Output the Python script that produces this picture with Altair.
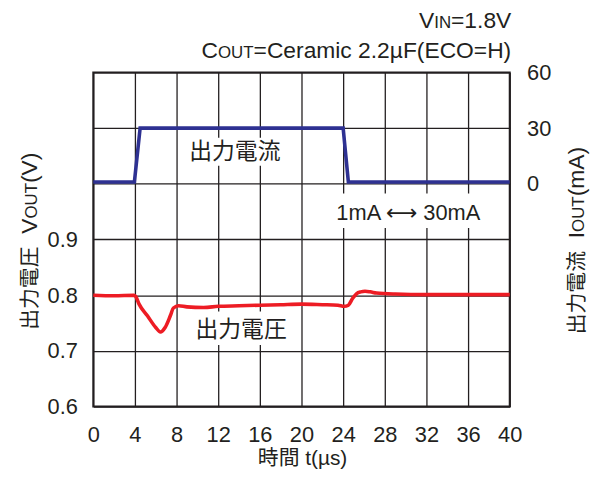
import altair as alt
import pandas as pd

# ---------------- data ----------------
# output voltage (left axis, V)
t_v = [0, 2, 3.9, 4.1, 4.4, 5.2, 6.0, 6.45, 6.9, 7.4, 7.7, 8.2, 9.0, 10.6, 12, 14, 16,
       18, 20, 22, 23.5, 24.1, 24.5, 24.9, 25.3, 25.7, 26.1, 26.6, 27.2, 29, 32, 36, 40]
v_out = [0.800, 0.799, 0.800, 0.797, 0.784, 0.763, 0.742, 0.734, 0.742, 0.763, 0.777,
         0.781, 0.779, 0.778, 0.780, 0.781, 0.782, 0.783, 0.784, 0.783, 0.782, 0.780,
         0.782, 0.794, 0.803, 0.806, 0.807, 0.806, 0.804, 0.802, 0.801, 0.801, 0.801]
# output current (right axis, mA)
t_i = [0, 3.95, 4.5, 24.0, 24.5, 40]
i_out = [1, 1, 30, 30, 1, 1]

x_ticks = [0, 4, 8, 12, 16, 20, 24, 28, 32, 36, 40]
v_grid = [0.6, 0.7, 0.8, 0.9, 1.0, 1.1, 1.2]
i_ticks = [0, 30, 60]

x_title = "時間 t(µs)"
label_current = "出力電流"
label_voltage = "出力電圧"
label_step = "1mA \u27f7 30mA"

# ---------------- style ----------------
LATIN = "Liberation Sans"
CJK = "Noto Sans CJK JP"
MIXED = "Liberation Sans, Noto Sans CJK JP"
INK = "#231F20"
RED = "#ED1C24"
BLUE = "#2E3192"
MAIN = 23
SUB = 17

xs = alt.Scale(domain=[0, 40], nice=False, zero=False)
vs = alt.Scale(domain=[0.6, 1.2], nice=False, zero=False)
cs = alt.Scale(domain=[-120, 60], nice=False, zero=False)

W = {' ': 278, '(': 333, ')': 333, '.': 278, '=': 584, 'A': 667, 'C': 722, 'E': 667,
     'F': 611, 'H': 722, 'I': 278, 'N': 722, 'O': 778, 'T': 611, 'U': 722, 'V': 667,
     'a': 556, 'c': 500, 'e': 556, 'i': 222, 'm': 833, 'r': 333, 's': 500, 't': 278,
     'µ': 576}


def text_w(s, size, cjk):
    if cjk:
        return len(s) * size
    return sum(W.get(ch, 556) for ch in s) / 1000 * size


def pieces(parts, t, v, anchor, angle=0):
    widths = [text_w(s, size, cjk) for s, size, cjk in parts]
    total = sum(widths)
    cum = {"left": 0, "center": -total / 2, "right": -total}[anchor]
    out = []
    for (s, size, cjk), w in zip(parts, widths):
        lead = len(s) - len(s.lstrip(" "))
        shift = text_w(" " * lead, size, cjk)
        out.append(
            alt.Chart(pd.DataFrame({"t": [t], "v": [v], "s": [s.lstrip(" ")]}))
            .mark_text(align="left", baseline="alphabetic", dx=cum + shift, angle=angle,
                       font=CJK if cjk else LATIN, fontSize=size, color=INK)
            .encode(x=alt.X("t:Q", scale=xs, axis=None),
                    y=alt.Y("v:Q", scale=vs, axis=None),
                    text="s:N")
        )
        cum += w
    return out


# ---------------- layers ----------------
vdf = pd.DataFrame({"t": t_v, "v": v_out})
idf = pd.DataFrame({"t": t_i, "i": i_out})

vline = alt.Chart(vdf).mark_line(color=RED, strokeWidth=3.6, interpolate="monotone").encode(
    x=alt.X("t:Q", scale=xs,
            axis=alt.Axis(orient="bottom", values=x_ticks, grid=True, ticks=False, domain=False,
                          labelPadding=18, labelFontSize=22, labelFont=LATIN,
                          labelColor=INK, labelFlush=False, labelOverlap=False,
                          title=None, gridColor=INK, gridWidth=1.3, gridOpacity=1)),
    y=alt.Y("v:Q", scale=vs,
            axis=alt.Axis(orient="left", values=v_grid, grid=True, ticks=False, domain=False,
                          labelExpr="datum.value <= 0.91 ? format(datum.value, '.1f') : ''",
                          labelPadding=16, labelFontSize=22, labelFont=LATIN,
                          labelColor=INK, labelOverlap=False, title=None,
                          gridColor=INK, gridWidth=1.3, gridOpacity=1)),
)

box_t0 = [8.95, 9.5, 22.8]
box_t1 = [18.5, 18.9, 37.9]
box_v0 = [1.0326, 0.7104, 0.9205]
box_v1 = [1.0825, 0.7709, 0.9828]
boxes = alt.Chart(pd.DataFrame({"t0": box_t0, "t1": box_t1, "v0": box_v0, "v1": box_v1})).mark_rect(
    color="white").encode(
    x=alt.X("t0:Q", scale=xs, axis=None), x2="t1:Q",
    y=alt.Y("v0:Q", scale=vs, axis=None), y2="v1:Q")

lab_t = [13.6, 14.2, 30.26]
lab_v = [1.0563, 0.737, 0.9466]
lab_txt = [label_current, label_voltage, label_step]
labels_cjk = alt.Chart(pd.DataFrame({"t": lab_t[:2], "v": lab_v[:2], "s": lab_txt[:2]})).mark_text(
    align="center", baseline="middle", font=CJK, fontSize=23, color=INK).encode(
    x=alt.X("t:Q", scale=xs, axis=None), y=alt.Y("v:Q", scale=vs, axis=None), text="s:N")
label_st = alt.Chart(pd.DataFrame({"t": lab_t[2:], "v": lab_v[2:], "s": lab_txt[2:]})).mark_text(
    align="center", baseline="middle", font="Liberation Sans, DejaVu Sans", fontSize=22,
    color=INK).encode(
    x=alt.X("t:Q", scale=xs, axis=None), y=alt.Y("v:Q", scale=vs, axis=None), text="s:N")

xtitle = alt.Chart(pd.DataFrame({"t": [20.1], "v": [0.495], "s": [x_title]})).mark_text(
    align="center", baseline="alphabetic", font=MIXED, fontSize=21, color=INK).encode(
    x=alt.X("t:Q", scale=xs, axis=None), y=alt.Y("v:Q", scale=vs, axis=None), text="s:N")

ann1 = pieces([("V", MAIN, False), ("IN", SUB, False), ("=1.8V", MAIN, False)],
              40.15, 1.280, "right")
ann2 = pieces([("C", MAIN, False), ("OUT", SUB, False),
               ("=Ceramic 2.2µF(ECO=H)", MAIN, False)], 40.15, 1.2267, "right")
ytitle_l = pieces([("出力電圧", 21, True), ("  V", MAIN, False), ("OUT", SUB, False),
                   ("(V)", MAIN, False)], -5.43, 0.897, "center", angle=270)
ytitle_r = pieces([("出力電流", 21, True), ("  I", MAIN, False), ("OUT", SUB, False),
                   ("(mA)", MAIN, False)], 47.14, 0.898, "center", angle=270)

iline = alt.Chart(idf).mark_line(color=BLUE, strokeWidth=3.6).encode(
    x=alt.X("t:Q", scale=xs, axis=None),
    y=alt.Y("i:Q", scale=cs,
            axis=alt.Axis(orient="right", values=i_ticks, grid=False, ticks=False,
                          domain=False, labelPadding=17, labelFontSize=22,
                          labelFont=LATIN, labelColor=INK, labelOverlap=False,
                          title=None)),
)

chart = alt.layer(vline, boxes, iline, *ann1, *ann2, *ytitle_l, *ytitle_r,
                  labels_cjk, label_st, xtitle).resolve_scale(
    x="independent", y="independent").properties(
    width=420, height=337,
    padding={"left": 86, "top": 63, "right": 86, "bottom": 64},
    autosize=alt.AutoSizeParams(type="none"),
    background="white",
).configure_view(stroke=INK, strokeWidth=2)

chart.save("out.html", embed_options={"renderer": "svg", "actions": False})
